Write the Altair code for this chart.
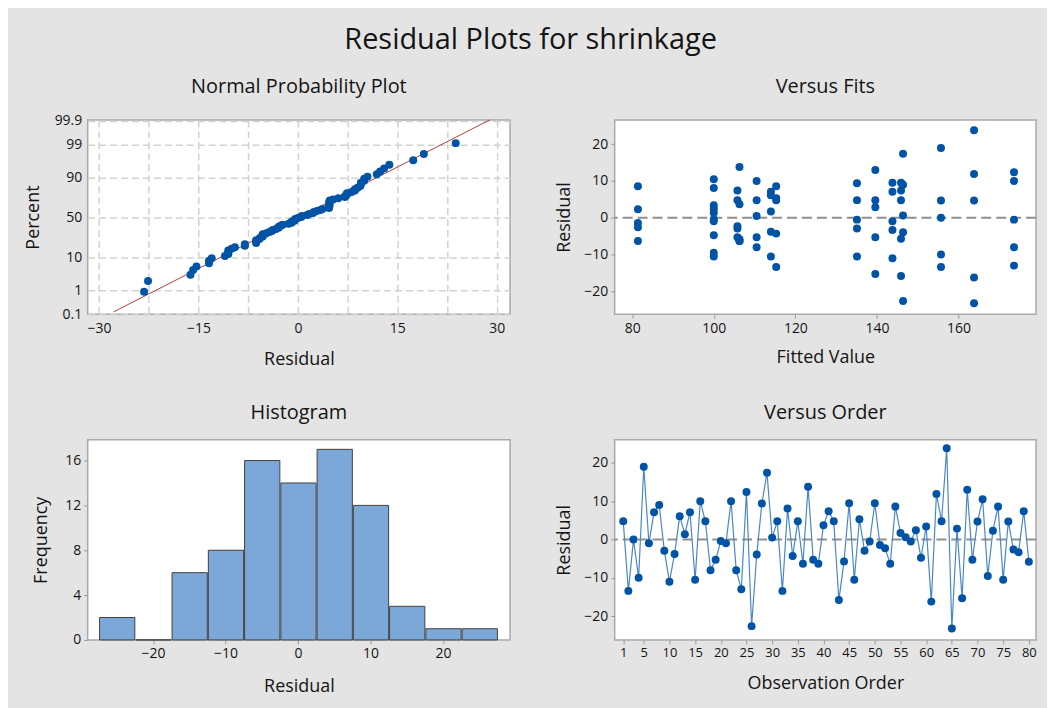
import altair as alt
import pandas as pd
from statistics import NormalDist, mean, stdev

# ---------------- data ----------------
obs_order = list(range(1, 81))
residuals = [4.8, -13.4, 0.0, -10.0, 19.0, -0.95, 7.1, 9.0, -2.9, -11.0,
             -3.8, 6.1, 1.4, 7.1, -10.5, 10.0, 4.75, -8.0, -5.3, -0.4,
             -0.95, 10.0, -8.0, -13.0, 12.4, -22.6, -3.9, 9.4, 17.4, 0.5,
             4.75, -13.4, 8.1, -4.3, 4.75, -6.3, 13.8, -5.3, -6.3, 3.7,
             7.4, 4.75, -15.8, -5.7, 9.5, -10.5, 5.3, -2.9, -0.5, 9.5,
             -1.4, -2.3, -6.3, 8.6, 1.7, 0.6, -0.5, 2.4, -4.75, 3.4,
             -16.2, 11.9, 4.75, 23.8, -23.2, 2.85, -15.3, 13.0, -5.3, 4.7,
             10.5, -9.5, 2.3, 8.6, -10.5, 4.7, -2.6, -3.3, 7.4, -5.8]
fitted = [135.1, 155.7, 155.7, 155.7, 155.7, 100.0, 114.0, 146.4, 135.1, 143.8,
          114.0, 114.0, 100.0, 143.8, 100.0, 173.6, 105.8, 173.6, 105.8, 100.0,
          143.8, 110.5, 110.5, 173.6, 173.6, 146.4, 146.4, 135.1, 146.4, 110.5,
          110.5, 115.3, 100.0, 115.3, 115.3, 81.4, 106.3, 110.5, 106.3, 106.3,
          145.9, 139.6, 145.9, 145.9, 145.9, 114.0, 115.3, 105.8, 135.1, 143.8,
          81.4, 105.8, 106.3, 81.4, 114.0, 146.4, 173.6, 100.0, 100.0, 100.0,
          163.8, 163.8, 145.9, 163.8, 163.8, 139.6, 139.6, 139.6, 139.6, 155.7,
          100.0, 100.0, 81.4, 115.3, 135.1, 163.8, 81.4, 143.8, 105.8, 106.3]

hist_edges = [-27.5, -22.5, -17.5, -12.5, -7.5, -2.5, 2.5, 7.5, 12.5, 17.5, 22.5, 27.5]
hist_counts = [2, 0, 6, 8, 16, 14, 17, 12, 3, 1, 1]

pct_ticks = [0.1, 1, 10, 50, 90, 99, 99.9]
resid_ticks_np = [-30, -22.5, -15, -7.5, 0, 7.5, 15, 22.5, 30]
fit_ticks = [80, 100, 120, 140, 160]
resid_ticks = [-20, -10, 0, 10, 20]
hist_x_ticks = [-20, -10, 0, 10, 20]
freq_ticks = [0, 4, 8, 12, 16]
order_ticks = [1, 5, 10, 15, 20, 25, 30, 35, 40, 45, 50, 55, 60, 65, 70, 75, 80]

df = pd.DataFrame({"order": obs_order, "residual": residuals, "fitted": fitted})
hist_df = pd.DataFrame({"start": hist_edges[:-1], "end": hist_edges[1:], "count": hist_counts})

nd = NormalDist()
z_ticks = [nd.inv_cdf(p / 100) for p in pct_ticks]
mu, sd = mean(residuals), stdev(residuals)
z_line = [-3.02, 3.12]
line_df = pd.DataFrame({"z": z_line, "residual": [mu + sd * z for z in z_line]})

# ---------------- style ----------------
FONT = "Open Sans"
PT = "#0053a5"
TXT = "#141414"


def ax(title, **kw):
    d = dict(title=title, labelFont=FONT, titleFont=FONT, labelFontSize=14,
             titleFontSize=18, labelColor=TXT, titleColor=TXT,
             titleFontWeight="normal", domain=False, tickColor="#9a9a9a",
             tickSize=4, grid=False, labelPadding=3, labelOverlap=False)
    d.update(kw)
    return alt.Axis(**d)


def ttl(text, offset):
    return alt.TitleParams(text, font=FONT, fontSize=20, fontWeight="normal",
                           color=TXT, offset=offset)


W1, W2 = 424, 423
H1, H2 = 195, 201

# ---------------- Normal probability plot ----------------
np_base = alt.Chart(df).transform_window(
    rank="row_number()", sort=[alt.SortField("residual")]
).transform_joinaggregate(n="count()").transform_calculate(
    z="quantileNormal((datum.rank - 0.3) / (datum.n + 0.4))"
)
xnp = alt.X("residual:Q", scale=alt.Scale(domain=[-31.7, 32.0], nice=False, zero=False),
            axis=ax("Residual", values=resid_ticks_np,
                    labelExpr="datum.value % 15 == 0 ? datum.label : ''",
                    grid=True, gridDash=[7, 4], gridColor="#d2d2d2", gridWidth=1.5,
                    ticks=False, labelPadding=7, titlePadding=16))
ynp = alt.Y("z:Q", scale=alt.Scale(domain=[-3.095, 3.12], nice=False, zero=False),
            axis=ax("Percent", values=z_ticks,
                    labelExpr="'' + round(cumulativeNormal(datum.value) * 1000) / 10",
                    grid=True, gridDash=[7, 4], gridColor="#d2d2d2", gridWidth=1.5,
                    ticks=False, labelPadding=6, titlePadding=12))
np_points = np_base.mark_circle(size=64, color=PT, opacity=1).encode(x=xnp, y=ynp)
np_line = alt.Chart(line_df).mark_line(color="#b0403c", strokeWidth=1).encode(
    x=xnp, y=ynp)
normal = alt.layer(np_line, np_points).properties(
    width=W1, height=H1, title=ttl("Normal Probability Plot", 17))

# ---------------- Versus fits ----------------
zero_df = pd.DataFrame({"y": [0]})
zero_rule = alt.Chart(zero_df).mark_rule(color="#8f8f8f", strokeWidth=2,
                                         strokeDash=[10, 5]).encode(y="y:Q")
fits_pts = alt.Chart(df).mark_circle(size=64, color=PT, opacity=1).encode(
    x=alt.X("fitted:Q", scale=alt.Scale(domain=[75.7, 179.0], nice=False, zero=False),
            axis=ax("Fitted Value", values=fit_ticks, titlePadding=14)),
    y=alt.Y("residual:Q", scale=alt.Scale(domain=[-26.2, 26.6], nice=False, zero=False),
            axis=ax("Residual", values=resid_ticks, titlePadding=10)),
)
fits = alt.layer(zero_rule, fits_pts).properties(
    width=W2, height=H1, title=ttl("Versus Fits", 23))

# ---------------- Histogram ----------------
hist = alt.Chart(hist_df).mark_bar(color="#7ba7d9", stroke="#404040", strokeWidth=1).encode(
    x=alt.X("start:Q", bin="binned",
            scale=alt.Scale(domain=[-29.0, 29.25], nice=False, zero=False),
            axis=ax("Residual", values=hist_x_ticks, titlePadding=17)),
    x2="end:Q",
    y=alt.Y("count:Q", scale=alt.Scale(domain=[0, 17.86], nice=False),
            axis=ax("Frequency", values=freq_ticks, titlePadding=14)),
).properties(width=W1, height=H2, title=ttl("Histogram", 17))

# ---------------- Versus order ----------------
ox = alt.X("order:Q", scale=alt.Scale(domain=[-0.67, 81.4], nice=False, zero=False),
           axis=ax("Observation Order", values=order_ticks, labelFontSize=13, titlePadding=15))
oy = alt.Y("residual:Q", scale=alt.Scale(domain=[-26.2, 26.05], nice=False, zero=False),
           axis=ax("Residual", values=resid_ticks, titlePadding=10))
ord_line = alt.Chart(df).mark_line(color="#4a87c9", strokeWidth=1.2).encode(x=ox, y=oy)
ord_pts = alt.Chart(df).mark_circle(size=64, color=PT, opacity=1).encode(x=ox, y=oy)
order_chart = alt.layer(zero_rule, ord_line, ord_pts).properties(
    width=W2, height=H2, title=ttl("Versus Order", 17))

chart = alt.concat(
    normal, fits, hist, order_chart, columns=2,
    spacing={"row": 126, "column": 105}, bounds="flush",
    title=alt.TitleParams("Residual Plots for shrinkage", font=FONT, fontSize=29,
                          fontWeight="normal", color=TXT, anchor="middle", offset=21),
).properties(
    background="#e4e4e4",
    padding={"left": 15, "top": 17, "right": 9, "bottom": 20},
).configure_view(
    stroke="#a9a9a9", strokeWidth=1.5, fill="white"
)

chart.save("out.html", embed_options={"renderer": "svg", "actions": False})
